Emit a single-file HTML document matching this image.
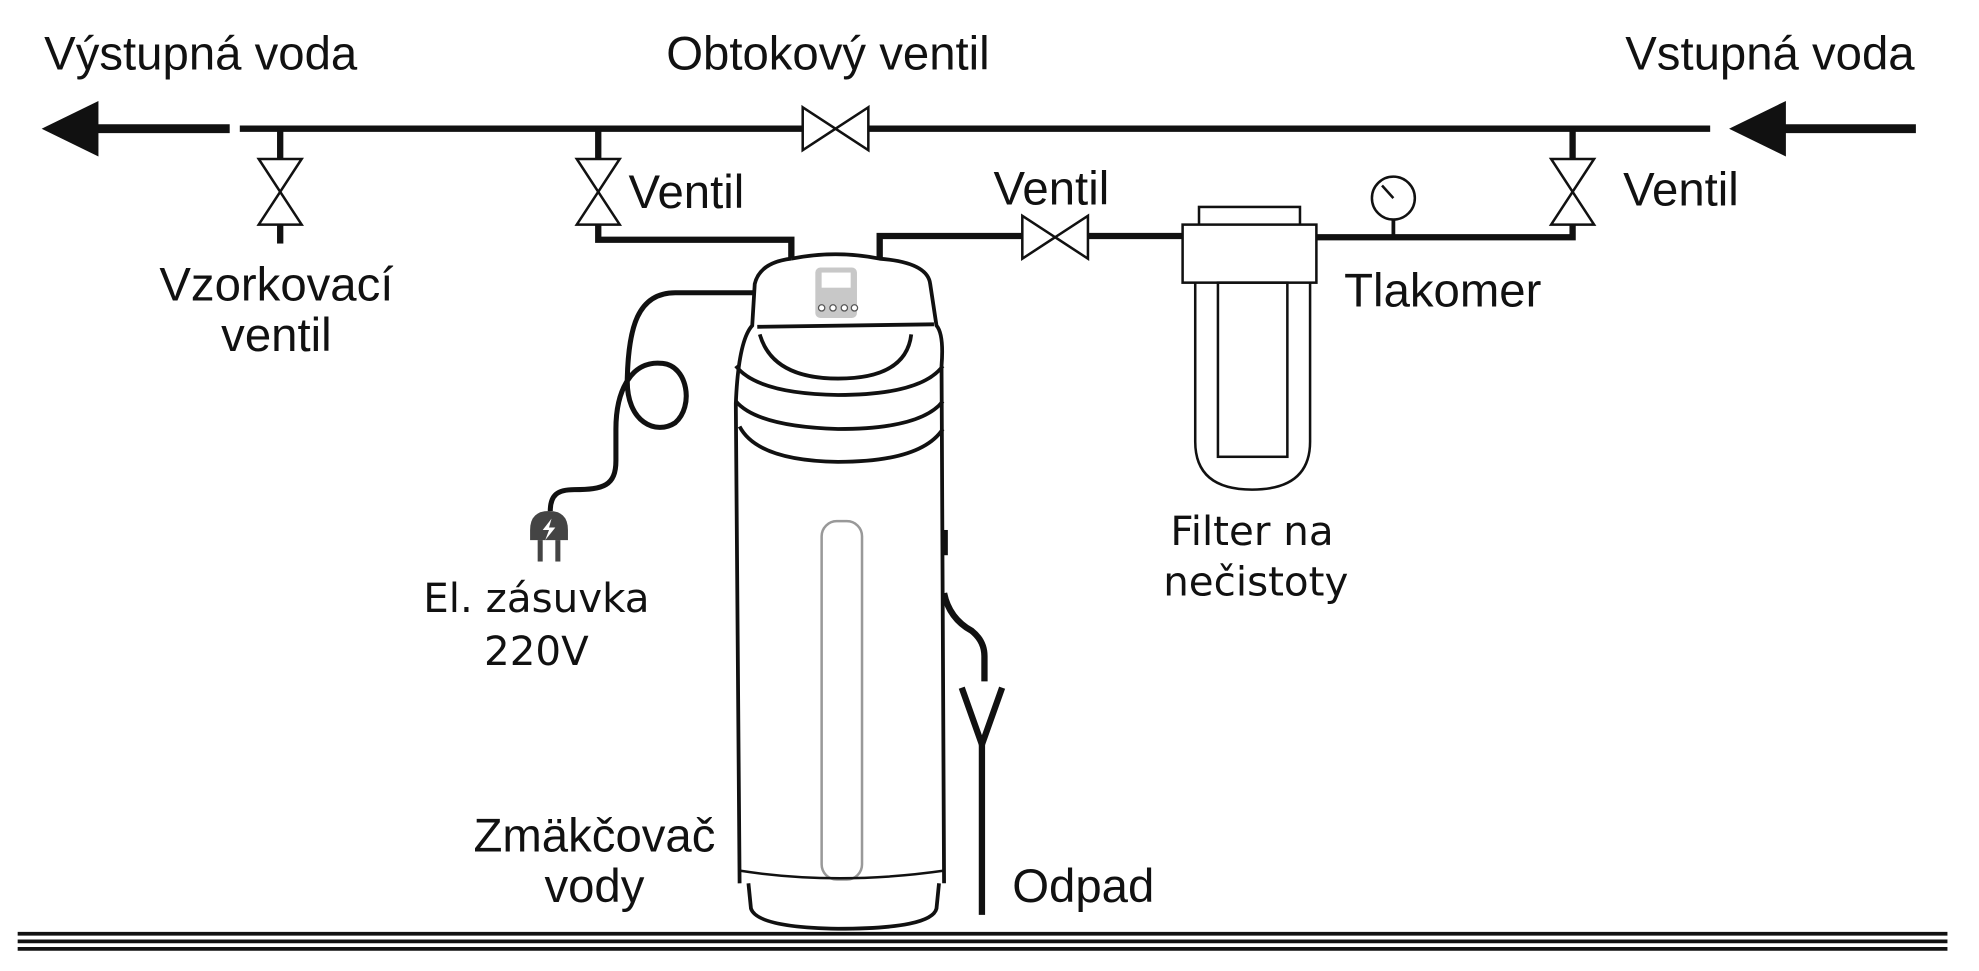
<!DOCTYPE html>
<html><head><meta charset="utf-8"><style>
html,body{margin:0;padding:0;background:#fff;}
svg{display:block;}
text{font-family:"Liberation Sans",sans-serif;fill:#111;}
.o{font-family:"DejaVu Sans","Liberation Sans",sans-serif;}
</style></head><body>
<svg width="1979" height="971" viewBox="0 0 1568 769.5" preserveAspectRatio="none" xmlns="http://www.w3.org/2000/svg">
<rect width="1568" height="770" fill="#fff"/>
<g stroke="#111" fill="none" stroke-linecap="butt">
<line x1="190" y1="102" x2="636" y2="102" stroke-width="5"/>
<line x1="688" y1="102" x2="1355" y2="102" stroke-width="5"/>
<line x1="70" y1="102" x2="182" y2="102" stroke-width="7"/>
<polygon points="33,102 78,80 78,124" fill="#111" stroke="none"/>
<line x1="1405" y1="102" x2="1518" y2="102" stroke-width="7"/>
<polygon points="1370,102 1415,80 1415,124" fill="#111" stroke="none"/>
<polygon points="636,85 662,102 636,119" stroke-width="2" fill="#fff"/>
<polygon points="688,85 662,102 688,119" stroke-width="2" fill="#fff"/>
<line x1="222" y1="102" x2="222" y2="126" stroke-width="5"/>
<polygon points="205,126 239,126 222,152" stroke-width="2" fill="#fff"/>
<polygon points="205,178 239,178 222,152" stroke-width="2" fill="#fff"/>
<line x1="222" y1="178" x2="222" y2="193" stroke-width="5"/>
<line x1="474" y1="102" x2="474" y2="126" stroke-width="5"/>
<polygon points="457,126 491,126 474,152" stroke-width="2" fill="#fff"/>
<polygon points="457,178 491,178 474,152" stroke-width="2" fill="#fff"/>
<polyline points="474,178 474,190 627,190 627,205" stroke-width="5"/>
<line x1="1246" y1="102" x2="1246" y2="126" stroke-width="5"/>
<polygon points="1229,126 1263,126 1246,152" stroke-width="2" fill="#fff"/>
<polygon points="1229,178 1263,178 1246,152" stroke-width="2" fill="#fff"/>
<polyline points="1246,178 1246,188 1043,188" stroke-width="5"/>
<polyline points="697,205 697,187 810,187" stroke-width="5"/>
<line x1="862" y1="187" x2="937" y2="187" stroke-width="5"/>
<polygon points="810,171 836,188 810,205" stroke-width="2" fill="#fff"/>
<polygon points="862,171 836,188 862,205" stroke-width="2" fill="#fff"/>
<line x1="1104" y1="174" x2="1104" y2="188" stroke-width="3"/>
<circle cx="1104" cy="157" r="17" stroke-width="2" fill="#fff"/>
<line x1="1104" y1="157" x2="1095" y2="147" stroke-width="2"/>
<rect x="950" y="164" width="80" height="15" stroke-width="2" fill="#fff"/>
<rect x="937" y="178" width="106" height="46" stroke-width="2" fill="#fff"/>
<path d="M947,224 L947,350 Q947,388 992,388 Q1038,388 1038,350 L1038,224" stroke-width="2"/>
<rect x="965" y="224" width="55" height="138" stroke-width="2"/>
<path d="M597,232 L535,232 C505,232 498,260 497,300 C496,335 520,345 535,335 C550,322 545,290 525,288 C500,285 488,310 488,340 L488,365 C488,385 478,388 455,388 C442,388 436,392 436,405" stroke-width="4"/>
<path d="M627,205 Q662,198 697,205 Q735,208 737,225 L742,258 Q748,265 746,290 L748,700" stroke-width="3"/>
<path d="M627,205 Q602,208 598,225 L596,258 Q585,270 583,320 L586,700" stroke-width="3"/>
<line x1="600" y1="259" x2="740" y2="257" stroke-width="3"/>
<path d="M602,265 Q612,300 664,300 Q718,300 722,265" stroke-width="3"/>
<path d="M583,290 Q600,312 664,313 Q730,313 747,290" stroke-width="3"/>
<path d="M583,318 Q600,338 664,340 Q730,340 747,318" stroke-width="3"/>
<path d="M586,338 Q600,365 664,366 Q730,366 747,340" stroke-width="3"/>
<rect x="651" y="413" width="32" height="284" rx="12" stroke="#999" stroke-width="2"/>
<path d="M586,690 Q664,702 748,690" stroke-width="2"/>
<path d="M593,700 L595,720 Q600,735 664,736 Q738,736 742,720 L744,700" stroke-width="3"/>
<rect x="746" y="420" width="5" height="20" fill="#111" stroke="none"/>
<path d="M748,470 Q752,490 770,500 Q780,508 780,520 L780,540" stroke-width="5"/>
<path d="M762,545 L778,590 L794,545" stroke-width="5"/>
<line x1="778" y1="590" x2="778" y2="725" stroke-width="5"/>
<line x1="14" y1="740" x2="1543" y2="740" stroke-width="3"/>
<line x1="14" y1="746" x2="1543" y2="746" stroke-width="3"/>
<line x1="14" y1="752" x2="1543" y2="752" stroke-width="3"/>
</g>
<rect x="646" y="212" width="33" height="40" rx="4" fill="#c8c8c8"/>
<rect x="651" y="216" width="23" height="12" fill="#fff"/>
<g fill="#fff" stroke="#555" stroke-width="1"><circle cx="651" cy="244" r="2.5"/><circle cx="660" cy="244" r="2.5"/><circle cx="669" cy="244" r="2.5"/><circle cx="677" cy="244" r="2.5"/></g>
<path d="M420,428 L420,420 Q420,405 435,405 Q450,405 450,420 L450,428 Z" fill="#444"/>
<rect x="426" y="428" width="4" height="17" fill="#444"/><rect x="440" y="428" width="4" height="17" fill="#444"/>
<polygon points="437,411 430,420 435,420 432,428 440,418 435,418" fill="#fff"/>
<g font-size="37.5">
<text x="35" y="55">Výstupná voda</text>
<text x="656" y="55" text-anchor="middle">Obtokový ventil</text>
<text x="1517" y="55" text-anchor="end">Vstupná voda</text>
<text x="498" y="165">Ventil</text>
<text x="833" y="162" text-anchor="middle">Ventil</text>
<text x="1286" y="163">Ventil</text>
<text x="219" y="238" text-anchor="middle">Vzorkovací</text>
<text x="219" y="278" text-anchor="middle">ventil</text>
<text x="1065" y="243">Tlakomer</text>
<text x="471" y="675" text-anchor="middle">Zmäkčovač</text>
<text x="471" y="715" text-anchor="middle">vody</text>
<text x="802" y="715">Odpad</text>
</g>
<text class="o" x="992" y="432" font-size="32" text-anchor="middle">Filter na</text>
<text class="o" x="995" y="472" font-size="32" text-anchor="middle">nečistoty</text>
<text class="o" x="425" y="485" font-size="32" text-anchor="middle">El. zásuvka</text>
<text class="o" x="425" y="527" font-size="32" text-anchor="middle">220V</text>
</svg>
</body></html>
